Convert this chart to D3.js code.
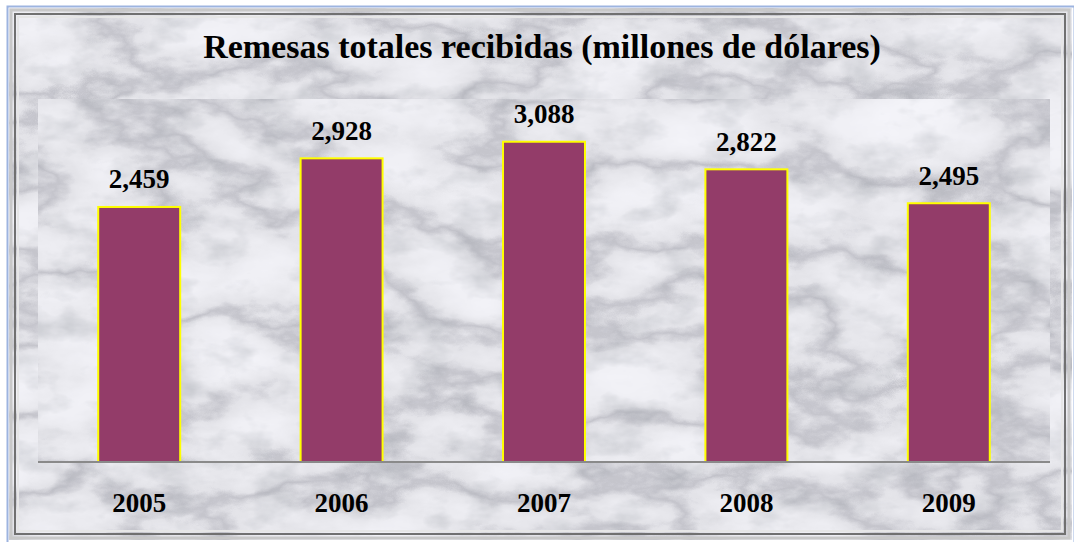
<!DOCTYPE html>
<html><head><meta charset="utf-8">
<script src="https://cdn.jsdelivr.net/npm/d3@7"></script>
<style>html,body{margin:0;padding:0;background:#fff;}svg{display:block;}</style>
</head><body>
<svg id="c" width="1074" height="542"></svg>
<script>
const categories = ["2005","2006","2007","2008","2009"];
const values = [2459, 2928, 3088, 2822, 2495];
const valueLabels = ["2,459","2,928","3,088","2,822","2,495"];
const title = "Remesas totales recibidas (millones de dólares)";

(function(){
const svg = d3.select("#c");
const W = 1074, H = 542;
const defs = svg.append("defs");

function marble(id, seed){
  const f = defs.append("filter").attr("id",id).attr("x",0).attr("y",0).attr("width","100%").attr("height","100%").attr("color-interpolation-filters","sRGB");
  f.append("feTurbulence").attr("type","fractalNoise").attr("baseFrequency","0.006 0.012").attr("numOctaves",6).attr("seed",seed).attr("result","n");
  f.append("feColorMatrix").attr("in","n").attr("type","matrix")
   .attr("values","1 0 0 0 0  1 0 0 0 0  1 0 0 0 0  0 0 0 0 1").attr("result","g");
  const ct = f.append("feComponentTransfer").attr("in","g").attr("result","veins");
  const tbl = "0.96 0.96 0.95 0.94 0.92 0.89 0.77 0.89 0.92 0.94 0.95 0.96 0.96";
  ct.append("feFuncR").attr("type","table").attr("tableValues",tbl);
  ct.append("feFuncG").attr("type","table").attr("tableValues",tbl);
  ct.append("feFuncB").attr("type","table").attr("tableValues","0.98 0.98 0.97 0.96 0.94 0.91 0.8 0.91 0.94 0.96 0.97 0.98 0.98");
  f.append("feTurbulence").attr("type","fractalNoise").attr("baseFrequency","0.02 0.035").attr("numOctaves",4).attr("seed",seed+3).attr("result","n2");
  f.append("feColorMatrix").attr("in","n2").attr("type","matrix")
   .attr("values","0 0 0 0 0.55  0 0 0 0 0.57  0 0 0 0 0.6  0.75 0 0 0 -0.37").attr("result","cl");
  f.append("feComposite").attr("in","cl").attr("in2","veins").attr("operator","over");
}
marble("marble", 11);
marble("marble2", 29);

svg.append("rect").attr("x",0).attr("y",0).attr("width",W).attr("height",H).attr("fill","#fff");
svg.append("rect").attr("x",7.5).attr("y",6.5).attr("width",W-7).attr("height",H-5).attr("fill","none").attr("stroke","#9db4e0").attr("stroke-width",2);
svg.append("rect").attr("x",9).attr("y",8).attr("width",1063).attr("height",532).attr("fill","#fff").attr("filter","url(#marble)");
const bev = svg.append("g").attr("fill","none");
bev.append("rect").attr("x",11).attr("y",10).attr("width",1058).attr("height",528).attr("stroke","#c8c8c8").attr("stroke-width",3);
bev.append("rect").attr("x",15).attr("y",14).attr("width",1050).attr("height",520).attr("stroke","#707070").attr("stroke-width",2);
bev.append("rect").attr("x",18).attr("y",17).attr("width",1044).attr("height",514).attr("stroke","#e6e6e6").attr("stroke-width",2);

const pL = 38, pR = 1050, pT = 99, pB = 462;
svg.append("rect").attr("x",pL).attr("y",pT).attr("width",pR-pL).attr("height",pB-pT)
 .attr("fill","#fff").attr("filter","url(#marble2)");

const x = d3.scaleBand().domain(categories).range([pL,pR]).paddingInner(0.595).paddingOuter(0.2975);
const y = d3.scaleLinear().domain([0,3500]).range([pB, pT]);

svg.append("g").selectAll("rect").data(values).join("rect")
 .attr("x",(d,i)=>x(categories[i]))
 .attr("y",d=>y(d))
 .attr("width",x.bandwidth())
 .attr("height",d=>y(0)-y(d))
 .attr("fill","#933c69").attr("stroke","#ffff00").attr("stroke-width",2);

const ax = svg.append("g").attr("transform",`translate(0,${pB})`)
 .call(d3.axisBottom(x).tickSize(0).tickPadding(0));
ax.select(".domain").attr("stroke","#8a8a8a").attr("stroke-width",2).attr("d",`M${pL},0H${pR}`);
ax.selectAll(".tick text").attr("dy",0).attr("y",50)
 .attr("font-family","'Liberation Serif','Times New Roman',serif").attr("font-weight","bold").attr("font-size",27).attr("fill","#000");

svg.append("g").selectAll("text").data(values).join("text")
 .attr("x",(d,i)=>x(categories[i])+x.bandwidth()/2)
 .attr("y",d=>y(d)-18.5)
 .attr("text-anchor","middle")
 .attr("font-family","'Liberation Serif','Times New Roman',serif").attr("font-weight","bold").attr("font-size",27)
 .text((d,i)=>valueLabels[i]);

svg.append("text").attr("x",542).attr("y",58).attr("text-anchor","middle")
 .attr("font-family","'Liberation Serif','Times New Roman',serif").attr("font-weight","bold").attr("font-size",34)
 .text(title);
})();
</script>
</body></html>
